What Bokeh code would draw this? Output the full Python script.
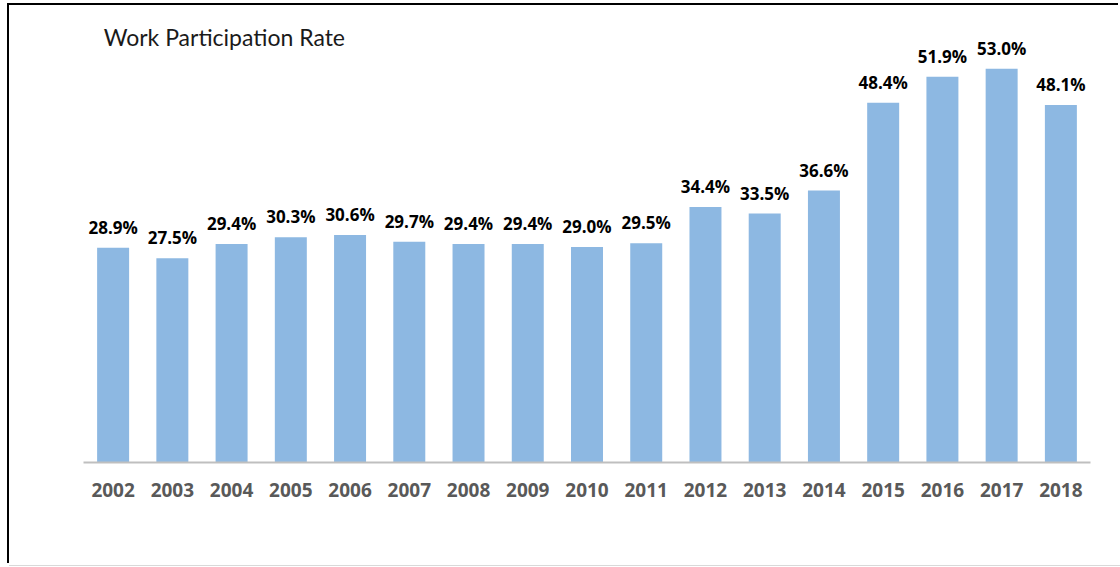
from bokeh.plotting import figure
from bokeh.models import ColumnDataSource, FactorRange, Range1d, LabelSet, Label
from bokeh.core.properties import value
from bokeh.embed import file_html
from bokeh.resources import INLINE

years = ["2002", "2003", "2004", "2005", "2006", "2007", "2008", "2009", "2010",
         "2011", "2012", "2013", "2014", "2015", "2016", "2017", "2018"]
rates = [28.9, 27.5, 29.4, 30.3, 30.6, 29.7, 29.4, 29.4, 29.0,
         29.5, 34.4, 33.5, 36.6, 48.4, 51.9, 53.0, 48.1]
labels = [f"{v:.1f}%" for v in rates]
title_text = "Work Participation Rate"

src = ColumnDataSource(dict(year=years, rate=rates, label=labels))

p = figure(width=1111, height=560, x_range=FactorRange(*years, range_padding=0),
           y_range=Range1d(0, 61.5), y_axis_type=None,
           output_backend="svg", toolbar_location=None,
           min_border_left=74, min_border_right=30, min_border_top=0, min_border_bottom=103)
p.outline_line_color = None
p.grid.visible = False
p.background_fill_color = "white"
p.border_fill_color = "white"

p.vbar(x="year", top="rate", width=0.54, source=src, color="#8db8e2", line_color=None)

p.add_layout(LabelSet(x="year", y="rate", text="label", source=src, y_offset=14,
                      text_align="center", text_baseline="alphabetic",
                      text_font=value("Open Sans"), text_font_style="bold",
                      text_font_size="17px", text_color="#000000"))

p.add_layout(Label(x=0.34, y=57.25, text=title_text, text_font="Lato",
                   text_font_size="23px", text_color="#1a1a1a", text_baseline="alphabetic"))

ax = p.xaxis[0]
ax.axis_line_color = "#bfbfbf"
ax.axis_line_width = 2
ax.major_tick_line_color = None
ax.minor_tick_line_color = None
ax.major_label_standoff = 14
ax.major_label_text_font = "Open Sans"
ax.major_label_text_font_style = "bold"
ax.major_label_text_font_size = "19px"
ax.major_label_text_color = "#595959"

p.styles = {"margin-left": "9px", "margin-top": "5px",
            "box-shadow": "-2px -2px 0 0 #000000, 0 1px 0 0 #d9d9d9"}

open("out.html", "w").write(file_html(p, INLINE))
